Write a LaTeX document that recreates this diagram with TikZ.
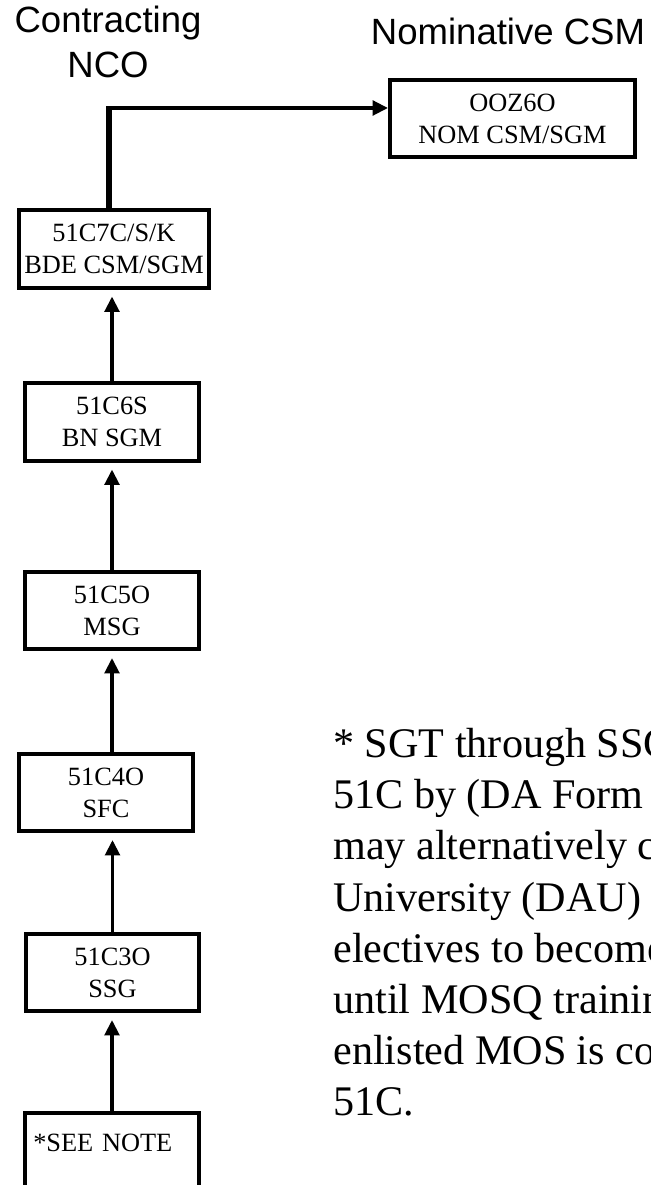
\documentclass[tikz,border=0pt]{standalone}
\usepackage{fontspec}
\setmainfont{Liberation Serif}
\setsansfont{Liberation Sans}
\usetikzlibrary{arrows.meta, positioning}

\begin{document}
\begin{tikzpicture}[x=0.02cm, y=-0.02cm, >={Triangle[length=0.31cm, width=0.29cm]},
    block/.style={draw, rectangle, line width=2.5pt, minimum width=3.47cm, minimum height=1.55cm, inner sep=0pt, align=center, font=\fontsize{15}{18.2}\selectfont},
    title/.style={font=\sffamily\fontsize{20.8}{25.6}\selectfont, align=center, inner sep=0pt},
    link/.style={->, line width=2.2pt, shorten >=0.13cm}]

    \useasboundingbox (0,0) rectangle (650,1185);
    \clip (0,0) rectangle (650,1185);

    \node[title, anchor=north] (nco) at (108,6) {Contracting\\NCO};
    \node[title, anchor=base] (csm) at (508,45) {Nominative CSM};

    \node[block, minimum width=4.89cm] (nom) at (512.5,118.5) {OOZ6O\\NOM CSM/SGM};
    \node[block, minimum width=3.79cm] (bde) at (114,249) {51C7C/S/K\\BDE CSM/SGM};
    \node[block] (bn) at (112,422) {51C6S\\BN SGM};
    \node[block] (msg) at (112,610.5) {51C5O\\MSG};
    \node[block] (sfc) at (106,792.5) {51C4O\\SFC};
    \node[block] (ssg) at (112.5,972.5) {51C3O\\SSG};
    \node[block, inner xsep=0.16cm, text width=3.15cm, text depth=0.36cm, align=left] (see) at (112,1152) {*SEE NOTE};

    \node[anchor=north west, align=left, inner sep=0pt, font=\fontsize{24}{29.1}\selectfont] (note) at (333,728)
        {* SGT through SSG\\51C by (DA Form\\may alternatively c\\University (DAU)\\electives to become\\until MOSQ training\\enlisted MOS is co\\51C.};

    % promotion path
    \draw[link] (see.north) -- (see.north |- ssg.south);
    \draw[link] (ssg.north) -- (ssg.north |- sfc.south);
    \draw[link] (sfc.north -| msg) -- (msg.south);
    \draw[link] (msg.north) -- (bn.south);
    \draw[link] (bn.north) -- (bn.north |- bde.south);

    \coordinate (turn) at (109,108);
    \draw[line width=3.4pt] (bde.north -| turn) -- ([yshift=0.6pt]turn);
    \draw[->, line width=2.2pt] ([xshift=-1.7pt]turn) -- (turn -| nom.west);
\end{tikzpicture}
\end{document}
